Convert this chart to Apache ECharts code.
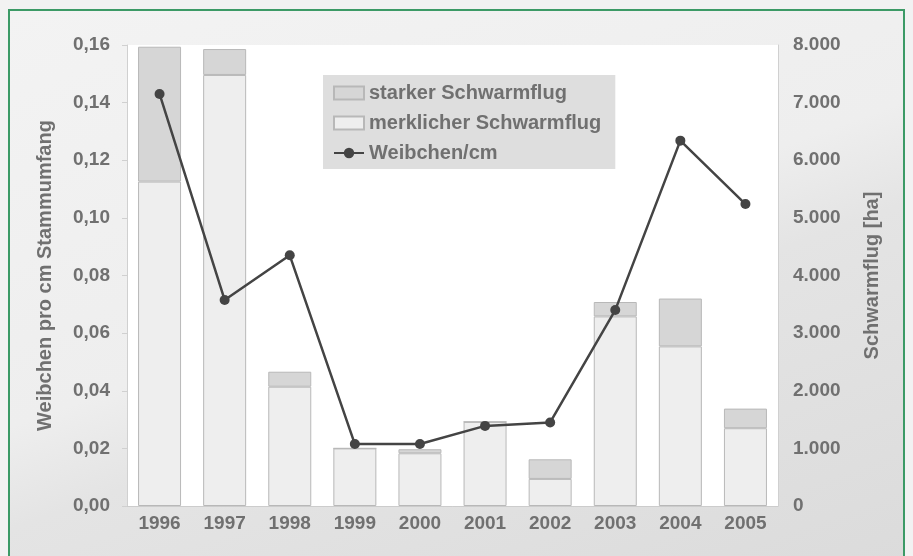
<!DOCTYPE html>
<html>
<head>
<meta charset="utf-8">
<script src="https://cdn.jsdelivr.net/npm/echarts@6/dist/echarts.min.js"></script>
<style>
  html, body {
    margin: 0;
    padding: 0;
    width: 913px;
    height: 556px;
    overflow: hidden;
    background: #f2f2f2;
  }
  .frame {
    position: absolute;
    left: 8px;
    top: 9px;
    width: 893px;
    height: 600px;
    border: 2px solid #3c9a66;
    background: linear-gradient(160deg, #f3f3f3 0%, #eeeeee 45%, #e4e4e4 56%, #dadada 100%);
  }
  #chart {
    position: absolute;
    left: 0;
    top: 0;
    width: 913px;
    height: 556px;
  }
</style>
</head>
<body>
<div class="frame"></div>
<div id="chart"></div>
<script>
const years = ['1996', '1997', '1998', '1999', '2000', '2001', '2002', '2003', '2004', '2005']
// Schwarmflug in ha (rechte Achse), gestapelt
const merklicher = [5630, 7480, 2070, 1000, 915, 1460, 470, 3290, 2770, 1350]
const starker = [2340, 450, 260, 0, 70, 0, 340, 250, 830, 340]
// Weibchen pro cm Stammumfang (linke Achse)
const weibchen = [0.143, 0.0715, 0.087, 0.0215, 0.0215, 0.0278, 0.029, 0.068, 0.1268, 0.1048]

const textColor = '#707070'
const fontFamily = '"Liberation Sans", Arial, sans-serif'

const chart = echarts.init(document.getElementById('chart'))

const option = {
  animation: false,
  textStyle: {fontFamily: fontFamily},
  grid: {
    show: true,
    backgroundColor: '#ffffff',
    borderWidth: 0,
    left: 127,
    right: 135,
    top: 45,
    bottom: 50
  },
  legend: {
    orient: 'vertical',
    left: 323,
    top: 75,
    padding: [8, 14, 6, 10],
    backgroundColor: '#dedede',
    itemWidth: 30,
    itemHeight: 13,
    itemGap: 10,
    textStyle: {
      fontSize: 20,
      fontWeight: 'bold',
      color: textColor
    },
    data: [
      {name: 'starker Schwarmflug', icon: 'rect'},
      {name: 'merklicher Schwarmflug', icon: 'rect'},
      {name: 'Weibchen/cm'}
    ]
  },
  xAxis: {
    type: 'category',
    data: years,
    axisLine: {show: true, lineStyle: {color: '#cccccc'}},
    axisTick: {show: false},
    axisLabel: {
      margin: 8,
      fontSize: 19,
      fontWeight: 'bold',
      color: textColor
    }
  },
  yAxis: [
    {
      type: 'value',
      min: 0,
      max: 0.16,
      interval: 0.02,
      position: 'left',
      name: 'Weibchen pro cm Stammumfang',
      nameLocation: 'middle',
      nameRotate: 90,
      nameGap: 72,
      nameTextStyle: {fontSize: 20, fontWeight: 'bold', color: textColor},
      axisLine: {show: true, lineStyle: {color: '#d0d0d0'}},
      axisTick: {show: true, length: 5, lineStyle: {color: '#d0d0d0'}},
      splitLine: {show: false},
      axisLabel: {
        margin: 17,
        fontSize: 19,
        fontWeight: 'bold',
        color: textColor,
        formatter: (v) => v.toFixed(2).replace('.', ',')
      }
    },
    {
      type: 'value',
      min: 0,
      max: 8000,
      interval: 1000,
      position: 'right',
      name: 'Schwarmflug [ha]',
      nameLocation: 'middle',
      nameRotate: 90,
      nameGap: 84,
      nameTextStyle: {fontSize: 20, fontWeight: 'bold', color: textColor},
      axisLine: {show: true, lineStyle: {color: '#d0d0d0'}},
      axisTick: {show: false},
      splitLine: {show: false},
      axisLabel: {
        margin: 15,
        fontSize: 19,
        fontWeight: 'bold',
        color: textColor,
        formatter: (v) => v === 0 ? '0' : (v / 1000).toFixed(3)
      }
    }
  ],
  series: [
    {
      name: 'merklicher Schwarmflug',
      type: 'bar',
      stack: 'flug',
      yAxisIndex: 1,
      barWidth: 43,
      itemStyle: {color: '#eeeeee', borderColor: '#b8b8b8', borderWidth: 1},
      data: merklicher
    },
    {
      name: 'starker Schwarmflug',
      type: 'bar',
      stack: 'flug',
      yAxisIndex: 1,
      barWidth: 43,
      itemStyle: {color: '#d6d6d6', borderColor: '#b8b8b8', borderWidth: 1},
      data: starker
    },
    {
      name: 'Weibchen/cm',
      type: 'line',
      yAxisIndex: 0,
      symbol: 'circle',
      symbolSize: 10,
      itemStyle: {color: '#444444'},
      lineStyle: {color: '#444444', width: 2.5},
      data: weibchen
    }
  ]
}

chart.setOption(option)
</script>
</body>
</html>
